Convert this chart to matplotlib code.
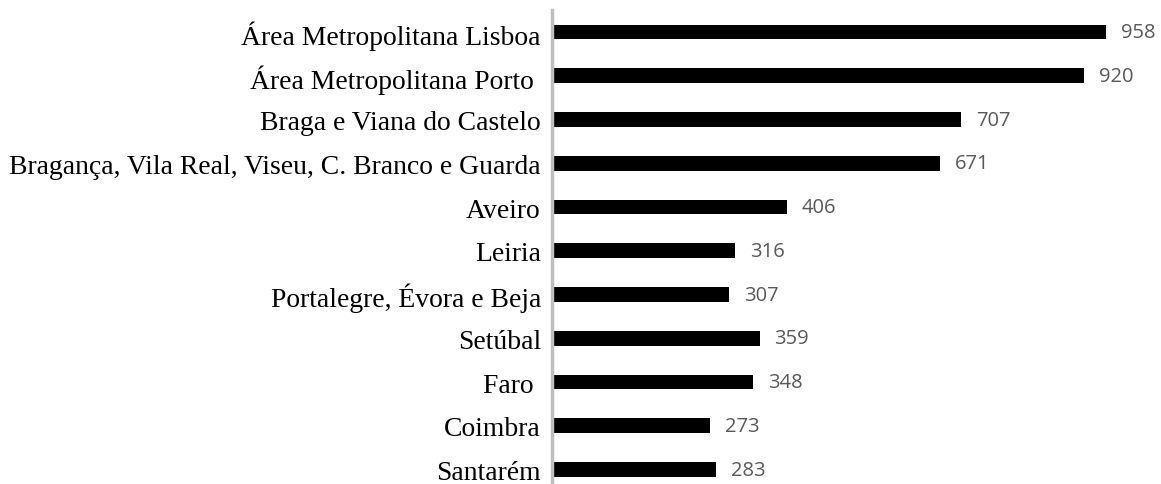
import matplotlib.pyplot as plt

regions = ['Área Metropolitana Lisboa', 'Área Metropolitana Porto ', 'Braga e Viana do Castelo',
           'Bragança, Vila Real, Viseu, C. Branco e Guarda', 'Aveiro', 'Leiria',
           'Portalegre, Évora e Beja', 'Setúbal', 'Faro ', 'Coimbra', 'Santarém']
values = [958, 920, 707, 671, 406, 316, 307, 359, 348, 273, 283]

fig = plt.figure(figsize=(11.61, 4.85), dpi=100)
ax = fig.add_axes([552 / 1161, 0, 609 / 1161, 474 / 485])

n = len(regions)
ypos = [n - 1 - i for i in range(n)]
ax.barh(ypos, values, height=0.34, color='black')

for y, v in zip(ypos, values):
    ax.annotate(str(v), (v, y), xytext=(15, 0), textcoords='offset pixels',
                va='center', ha='left', fontsize=14.5, color='#595959',
                family='Open Sans')

ax.set_xlim(0, 1053.6)
ax.set_ylim(-0.331, 10.503)
ax.set_yticks(ypos)
ax.set_yticklabels(regions, family='Liberation Serif', fontsize=19.9)
ax.tick_params(axis='y', length=0, pad=8)
ax.set_xticks([])
for s in ['top', 'right', 'bottom']:
    ax.spines[s].set_visible(False)
ax.spines['left'].set_color('#bfbfbf')
ax.spines['left'].set_linewidth(2.5)

fig.savefig('out.png', dpi=100)
